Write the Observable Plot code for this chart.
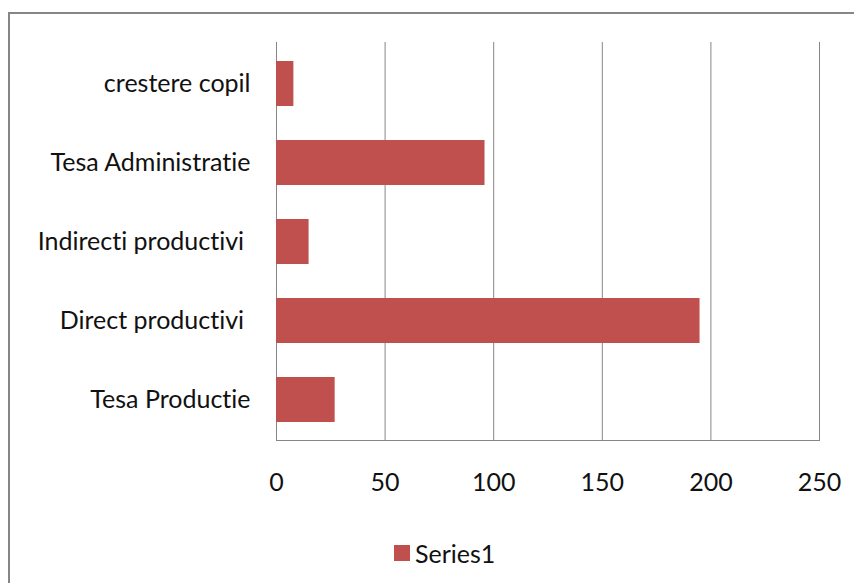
<!DOCTYPE html>
<html>
<head>
<meta charset="utf-8">
<script src="https://cdn.jsdelivr.net/npm/d3@7"></script>
<script src="https://cdn.jsdelivr.net/npm/@observablehq/plot@0.6"></script>
<style>
  html, body { margin: 0; padding: 0; background: #fff; width: 854px; height: 583px; overflow: hidden; }
  #frame { position: absolute; left: 8px; top: 12px; width: 900px; height: 640px; border: 2.5px solid #868686; box-sizing: border-box; }
  #chart { position: absolute; left: 0; top: 0; }
  #legend { position: absolute; left: 394px; top: 536px; }
  #chart svg, #legend div { font-variant-ligatures: none; font-feature-settings: "liga" 0, "clig" 0; }
  #legend span { margin-right: 0 !important; }
  #legend span > svg { margin-right: 5px !important; }
</style>
</head>
<body>
<div id="frame"></div>
<div id="chart"></div>
<div id="legend"></div>
<script>
// Staff categories, top to bottom
const categories = [
  "crestere copil",
  "Tesa Administratie",
  "Indirecti productivi\u00a0",
  "Direct productivi\u00a0",
  "Tesa Productie"
];
// Head count per category
const values = [8, 96, 15, 195, 27];
// Value axis ticks
const xTicks = [0, 50, 100, 150, 200, 250];
const seriesName = "Series1";
const barColor = "#C0504D";
const gridColor = "#868686";
const font = "Lato, 'Open Sans', sans-serif";

const data = categories.map((category, i) => ({category, value: values[i]}));

const chart = Plot.plot({
  width: 854,
  height: 500,
  marginLeft: 276,
  marginRight: 35,
  marginTop: 42,
  marginBottom: 60,
  style: {fontFamily: font, fontSize: "25px", color: "#111", background: "transparent", overflow: "visible"},
  x: {domain: [0, 250], ticks: xTicks, label: null},
  y: {domain: categories, paddingInner: 0.435, paddingOuter: 0.2175, label: null},
  marks: [
    Plot.gridX(xTicks, {stroke: gridColor, strokeOpacity: 1, strokeWidth: 1}),
    Plot.frame({anchor: "bottom", stroke: gridColor, strokeWidth: 1}),
    Plot.barX(data, {x: "value", y: "category", fill: barColor}),
    Plot.axisX({ticks: xTicks, tickSize: 0, tickPadding: 33, label: null}),
    Plot.axisY({tickSize: 0, tickPadding: 26, label: null})
  ]
});
document.getElementById("chart").append(chart);

const legend = Plot.legend({
  color: {type: "ordinal", domain: [seriesName], range: [barColor]},
  swatchSize: 16,
  style: {fontFamily: font, fontSize: "25px", color: "#111"}
});
document.getElementById("legend").append(legend);
</script>
</body>
</html>
